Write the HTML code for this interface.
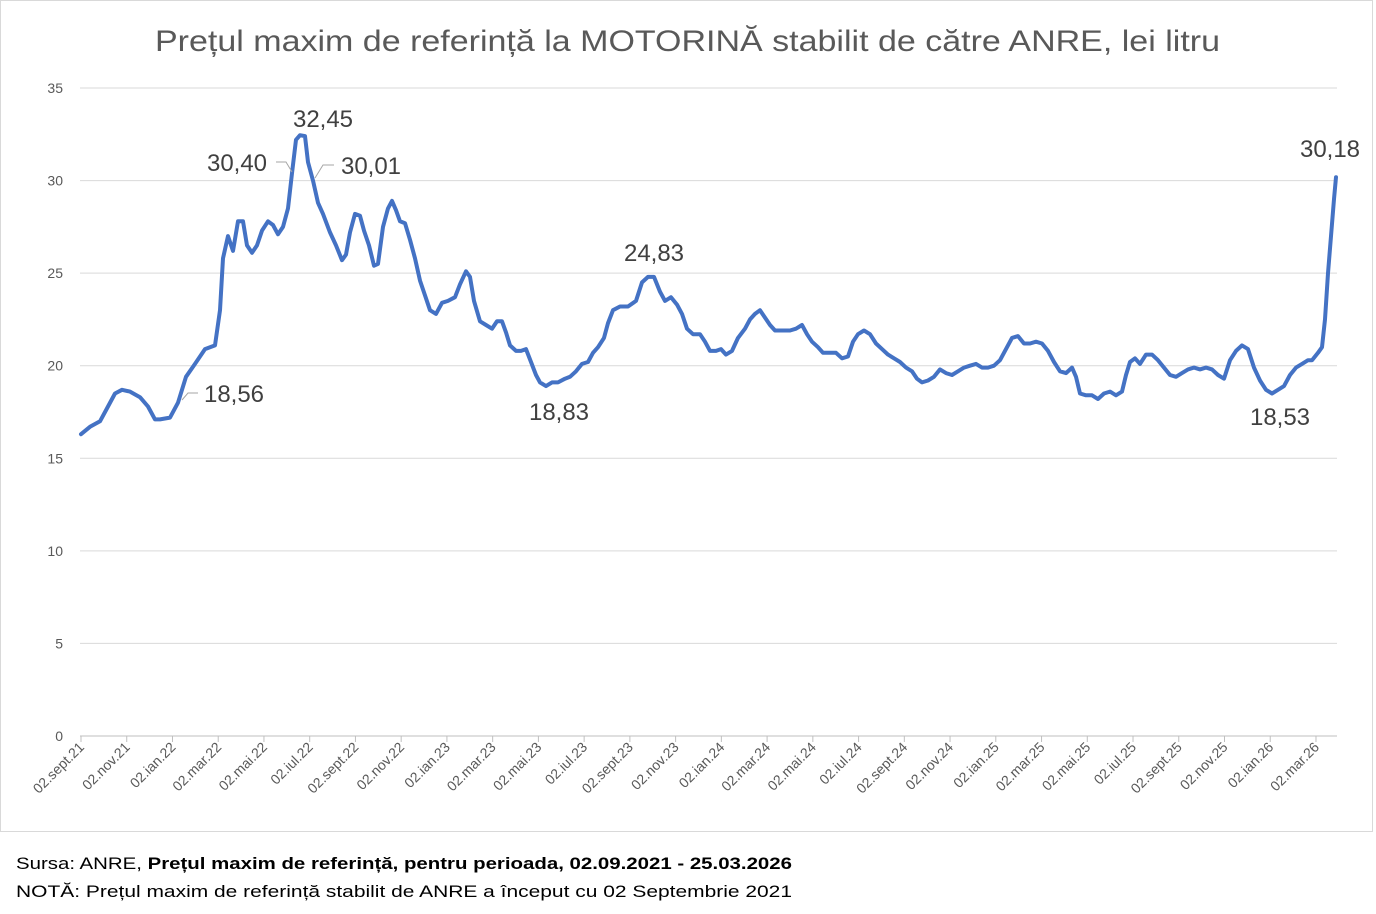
<!DOCTYPE html>
<html><head><meta charset="utf-8">
<style>
body{margin:0;background:#fff;width:1376px;height:914px;overflow:hidden;font-family:"Liberation Sans",sans-serif}
#frame{position:absolute;left:0;top:0;width:1373px;height:832px;border:1px solid #d9d9d9;box-sizing:border-box}
</style></head><body>
<div id="frame"></div>
<svg id="c" width="1376" height="914" style="position:absolute;left:0;top:0" font-family="Liberation Sans, sans-serif">
<text x="155" y="51" font-size="30" fill="#595959" textLength="1065" lengthAdjust="spacingAndGlyphs">Prețul maxim de referință la MOTORINĂ stabilit de către ANRE, lei litru</text>
<g id="grid"></g>
<g id="xl"></g>
<polyline id="ln" fill="none" stroke="#4472c4" stroke-width="4" stroke-linejoin="round" stroke-linecap="round"/>
<g font-size="24" fill="#404040" text-anchor="middle">
<text x="323" y="127">32,45</text>
<text x="237" y="171">30,40</text>
<text x="371" y="174">30,01</text>
<text x="234" y="402">18,56</text>
<text x="559" y="420">18,83</text>
<text x="654" y="261">24,83</text>
<text x="1280" y="425">18,53</text>
<text x="1330" y="157">30,18</text>
</g>
<g stroke="#a6a6a6" stroke-width="1" fill="none">
<polyline points="276,162 286,162 292,172"/>
<polyline points="334,165 323,165 315,178"/>
<polyline points="198,393 188,393 182,400"/>
</g>
<text x="16" y="869" font-size="17" fill="#000" textLength="776" lengthAdjust="spacingAndGlyphs">Sursa: ANRE, <tspan font-weight="bold">Prețul maxim de referință, pentru perioada, 02.09.2021 - 25.03.2026</tspan></text>
<text x="16" y="897" font-size="17" fill="#000" textLength="776" lengthAdjust="spacingAndGlyphs">NOTĂ:  Prețul maxim de referință stabilit de ANRE a început cu 02 Septembrie 2021</text>
</svg>
<script>
const Y=v=>736-v*18.514;
let g='';
for(let v=0;v<=35;v+=5){const y=Y(v);g+=`<line x1="80" x2="1337" y1="${y}" y2="${y}" stroke="${v?'#d9d9d9':'#bfbfbf'}"/><text x="63" y="${y+5}" text-anchor="end" font-size="14" fill="#595959">${v}</text>`;}
document.getElementById('grid').innerHTML=g;
const m=['sept','nov','ian','mar','mai','iul'];
let xl='';
for(let i=0;i<28;i++){const x=81+i*45.74;const yr=21+Math.floor((i+4)/6);const lab='02.'+m[i%6]+'.'+yr;
xl+=`<line x1="${x}" x2="${x}" y1="736" y2="742" stroke="#bfbfbf"/><text transform="translate(${x+4},748) rotate(-45)" text-anchor="end" font-size="14" fill="#595959">${lab}</text>`;}
document.getElementById('xl').innerHTML=xl;
const d=[[81,16.3],[90,16.7],[100,17.0],[108,17.8],[115,18.5],[122,18.7],[130,18.6],[140,18.3],[148,17.8],[155,17.1],[160,17.1],[170,17.2],[178,18.0],[186,19.4],[195,20.1],[205,20.9],[215,21.1],[220,23],[223,25.8],[228,27.0],[233,26.2],[238,27.8],[243,27.8],[247,26.5],[252,26.1],[257,26.5],[262,27.3],[268,27.8],[273,27.6],[278,27.1],[283,27.5],[288,28.5],[292,30.4],[296,32.2],[300,32.45],[305,32.4],[308,31.0],[313,30.0],[318,28.8],[323,28.2],[330,27.2],[336,26.5],[342,25.7],[346,26.0],[350,27.2],[355,28.2],[360,28.1],[364,27.3],[369,26.5],[374,25.4],[378,25.5],[383,27.5],[388,28.5],[392,28.9],[396,28.4],[400,27.8],[405,27.7],[410,26.8],[415,25.8],[420,24.6],[425,23.8],[430,23.0],[436,22.8],[442,23.4],[448,23.5],[455,23.7],[460,24.4],[466,25.1],[470,24.8],[474,23.5],[480,22.4],[486,22.2],[492,22.0],[497,22.4],[502,22.4],[506,21.8],[510,21.1],[516,20.8],[521,20.8],[526,20.9],[531,20.2],[536,19.5],[540,19.1],[546,18.9],[552,19.1],[558,19.1],[565,19.3],[570,19.4],[576,19.7],[582,20.1],[588,20.2],[593,20.7],[598,21.0],[604,21.5],[608,22.3],[613,23.0],[620,23.2],[628,23.2],[636,23.5],[642,24.5],[648,24.8],[654,24.8],[660,24.0],[665,23.5],[671,23.7],[677,23.3],[682,22.8],[687,22.0],[693,21.7],[700,21.7],[705,21.3],[710,20.8],[716,20.8],[721,20.9],[726,20.6],[732,20.8],[738,21.5],[745,22.0],[750,22.5],[755,22.8],[760,23.0],[765,22.6],[770,22.2],[775,21.9],[783,21.9],[790,21.9],[796,22.0],[802,22.2],[807,21.7],[812,21.3],[818,21.0],[823,20.7],[830,20.7],[836,20.7],[842,20.4],[848,20.5],[853,21.3],[858,21.7],[864,21.9],[870,21.7],[876,21.2],[882,20.9],[888,20.6],[894,20.4],[900,20.2],[906,19.9],[912,19.7],[917,19.3],[922,19.1],[928,19.2],[934,19.4],[940,19.8],[946,19.6],[952,19.5],[958,19.7],[964,19.9],[970,20.0],[976,20.1],[982,19.9],[988,19.9],[994,20.0],[1000,20.3],[1006,20.9],[1012,21.5],[1018,21.6],[1024,21.2],[1030,21.2],[1036,21.3],[1042,21.2],[1048,20.8],[1054,20.2],[1060,19.7],[1066,19.6],[1072,19.9],[1076,19.4],[1080,18.5],[1086,18.4],[1092,18.4],[1098,18.2],[1104,18.5],[1110,18.6],[1116,18.4],[1122,18.6],[1126,19.5],[1130,20.2],[1135,20.4],[1140,20.1],[1146,20.6],[1152,20.6],[1158,20.3],[1164,19.9],[1170,19.5],[1176,19.4],[1182,19.6],[1188,19.8],[1194,19.9],[1200,19.8],[1206,19.9],[1212,19.8],[1218,19.5],[1224,19.3],[1230,20.3],[1236,20.8],[1242,21.1],[1248,20.9],[1254,19.9],[1260,19.2],[1266,18.7],[1272,18.5],[1278,18.7],[1284,18.9],[1290,19.5],[1296,19.9],[1302,20.1],[1308,20.3],[1312,20.3],[1318,20.7],[1322,21.0],[1325,22.5],[1328,25],[1331,27],[1334,29],[1336,30.18]];
document.getElementById('ln').setAttribute('points',d.map(p=>p[0]+','+Y(p[1]).toFixed(1)).join(' '));
</script>
</body></html>
